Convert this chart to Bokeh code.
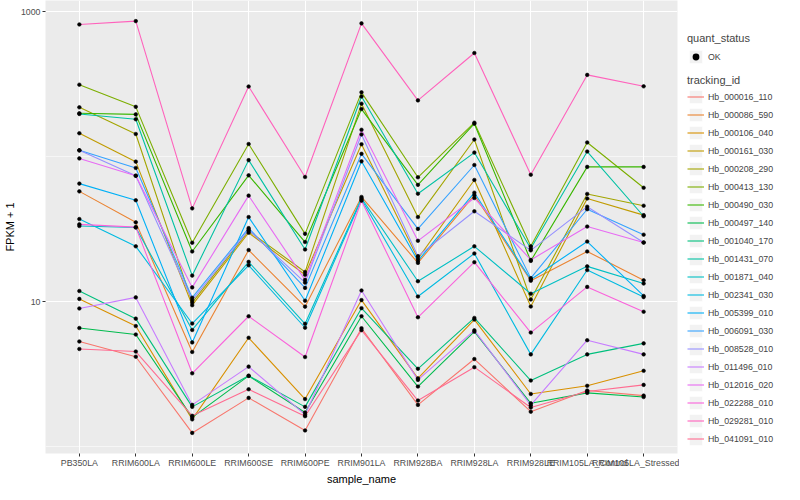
import math
from bokeh.plotting import figure
from bokeh.models import (FactorRange, Range1d, FixedTicker, BasicTickFormatter,
                          Legend, LegendItem)
from bokeh.layouts import row
from bokeh.embed import file_html
from bokeh.resources import INLINE

samples = ["PB350LA", "RRIM600LA", "RRIM600LE", "RRIM600SE", "RRIM600PE", "RRIM901LA",
           "RRIM928BA", "RRIM928LA", "RRIM928LE", "RRIM105LA_Control", "RRIM105LA_Stressed"]

tracking_ids = ["Hb_000016_110", "Hb_000086_590", "Hb_000106_040", "Hb_000161_030",
                "Hb_000208_290", "Hb_000413_130", "Hb_000490_030", "Hb_000497_140",
                "Hb_001040_170", "Hb_001431_070", "Hb_001871_040", "Hb_002341_030",
                "Hb_005399_010", "Hb_006091_030", "Hb_008528_010", "Hb_011496_010",
                "Hb_012016_020", "Hb_022288_010", "Hb_029281_010", "Hb_041091_010"]

# FPKM + 1 per sample (order of `samples`)
hb_000016_110 = [5.34, 4.19, 1.25, 2.18, 1.30, 6.59, 1.95, 4.04, 1.75, 2.45, 2.26]
hb_000086_590 = [57.9, 35.4, 4.52, 22.8, 9.28, 53.0, 18.6, 54.5, 14.0, 22.3, 14.1]
hb_000106_040 = [10.5, 6.82, 1.55, 5.66, 2.14, 10.3, 2.97, 7.56, 2.32, 2.64, 3.35]
hb_000161_030 = [145.7, 92.8, 9.5, 30.0, 15.4, 122.4, 19.9, 69.4, 9.3, 51.7, 39.7]
hb_000208_290 = [220.0, 144.0, 9.9, 30.9, 16.1, 233.0, 38.5, 131.9, 10.4, 55.6, 46.1]
hb_000413_130 = [315.0, 221.6, 25.6, 122.8, 29.5, 279.0, 72.4, 172.3, 24.2, 125.9, 61.3]
hb_000490_030 = [200.0, 196.6, 22.3, 74.7, 25.9, 214.0, 64.2, 169.6, 19.2, 85.4, 85.4]
hb_000497_140 = [6.61, 5.96, 1.60, 3.09, 1.73, 7.97, 2.61, 6.24, 2.00, 2.36, 2.21]
hb_001040_170 = [11.9, 7.67, 1.89, 3.10, 1.89, 9.06, 3.46, 7.76, 2.87, 4.35, 5.18]
hb_001431_070 = [198.0, 181.9, 15.2, 95.1, 23.0, 261.0, 55.8, 107.2, 23.4, 109.0, 39.0]
hb_001871_040 = [33.4, 32.6, 6.41, 18.9, 7.07, 51.9, 13.9, 24.2, 11.4, 17.6, 13.4]
hb_002341_030 = [37.3, 24.2, 7.10, 17.9, 6.64, 50.9, 10.9, 21.6, 4.35, 16.6, 10.8]
hb_005399_010 = [65.5, 50.3, 5.26, 38.5, 10.2, 93.3, 19.2, 56.7, 14.3, 26.1, 11.0]
hb_006091_030 = [111.1, 84.0, 10.7, 32.3, 12.5, 105.1, 31.9, 88.0, 14.6, 43.6, 29.1]
hb_008528_010 = [111.1, 74.2, 10.3, 31.4, 13.6, 143.0, 20.7, 42.2, 22.7, 45.4, 25.7]
hb_011496_010 = [9.02, 10.75, 1.95, 3.58, 1.67, 12.0, 2.90, 6.37, 1.94, 5.45, 4.35]
hb_012016_020 = [97.7, 74.2, 12.6, 54.1, 14.2, 154.0, 26.4, 52.1, 19.5, 33.1, 25.7]
hb_022288_010 = [34.3, 32.8, 3.22, 7.97, 4.17, 49.9, 7.84, 18.8, 6.15, 12.7, 8.56]
hb_029281_010 = [820.0, 865.0, 44.2, 306.0, 72.7, 834.0, 245.5, 521.0, 75.4, 368.0, 307.0]
hb_041091_010 = [4.74, 4.55, 1.64, 2.50, 1.63, 6.39, 2.09, 3.55, 1.87, 2.41, 2.68]

series = [hb_000016_110, hb_000086_590, hb_000106_040, hb_000161_030, hb_000208_290,
          hb_000413_130, hb_000490_030, hb_000497_140, hb_001040_170, hb_001431_070,
          hb_001871_040, hb_002341_030, hb_005399_010, hb_006091_030, hb_008528_010,
          hb_011496_010, hb_012016_020, hb_022288_010, hb_029281_010, hb_041091_010]

palette = ["#F8766D", "#EA8331", "#D89000", "#C09B00", "#A3A500", "#7CAE00", "#39B600",
           "#00BB4E", "#00BF7D", "#00C1A3", "#00BFC4", "#00BAE0", "#00B0F6", "#35A2FF",
           "#9590FF", "#C77CFF", "#E76BF3", "#FA62DB", "#FF62BC", "#FF6C91"]

FONT = "Liberation Sans"

all_vals = [v for s in series for v in s]
lo, hi = math.log10(min(all_vals)), math.log10(max(all_vals))
pad = 0.05 * (hi - lo)

p = figure(frame_width=632, frame_height=453, output_backend="svg", toolbar_location=None,
           x_range=FactorRange(*samples, range_padding=0.1, range_padding_units="absolute"),
           y_range=Range1d(10 ** (lo - pad), 10 ** (hi + pad)), y_axis_type="log",
           min_border_left=0, min_border_right=2, min_border_top=0, min_border_bottom=0)
p.background_fill_color = "#EBEBEB"
p.border_fill_color = "white"
p.outline_line_color = None

p.yaxis.ticker = FixedTicker(ticks=[10, 1000], minor_ticks=[1, 100])
p.yaxis.formatter = BasicTickFormatter()
p.yaxis.major_label_overrides = {10: "10", 1000: "1000"}

for ax in (p.xaxis, p.yaxis):
    ax.axis_line_color = None
    ax.major_tick_line_color = "#333333"
    ax.major_tick_in = 0
    ax.major_tick_out = 3
    ax.minor_tick_line_color = None
    ax.major_label_text_font = FONT
    ax.major_label_text_font_size = "8.8px"
    ax.major_label_text_color = "#4D4D4D"
    ax.major_label_standoff = 1
    ax.axis_label_text_font = FONT
    ax.axis_label_text_font_size = "11px"
    ax.axis_label_text_font_style = "normal"
    ax.axis_label_text_color = "black"
    ax.axis_label_standoff = 2
p.xaxis.axis_label = "sample_name"
p.yaxis.axis_label = "FPKM + 1"

p.xgrid.grid_line_color = "white"
p.xgrid.grid_line_width = 1.1
p.ygrid.grid_line_color = "white"
p.ygrid.grid_line_width = 1.1
p.ygrid.minor_grid_line_color = "white"
p.ygrid.minor_grid_line_width = 0.55

for vals, col in zip(series, palette):
    p.line(x=samples, y=vals, line_color=col, line_width=1.1)
for vals in series:
    p.scatter(x=samples, y=vals, size=3.6, fill_color="black", line_color="black",
              line_width=0.6)

# legend panel (renderers placed outside its visible range, used only for legend keys)
lp = figure(width=100, height=484, output_backend="svg", toolbar_location=None,
            x_range=Range1d(0, 1), y_range=Range1d(0, 1),
            x_axis_location=None, y_axis_location=None, min_border=0)
lp.outline_line_color = None
lp.grid.visible = False
lp.background_fill_color = "white"
lp.border_fill_color = "white"

key_bg = lp.rect(x=[10], y=[10], width=1, height=1, fill_color="#F2F2F2", line_color="white")
ok_dot = lp.scatter(x=[10], y=[10], size=4, fill_color="black", line_color=None)
key_lines = [lp.line(x=[10, 11], y=[10, 10], line_color=c, line_width=1.1) for c in palette]


def style(leg, standoff):
    leg.title_text_font = FONT
    leg.title_text_font_size = "11px"
    leg.title_text_font_style = "normal"
    leg.title_standoff = standoff
    leg.label_text_font = FONT
    leg.label_text_font_size = "8.8px"
    leg.glyph_width = 17
    leg.glyph_height = 17
    leg.label_height = 17
    leg.label_standoff = 4
    leg.spacing = 1
    leg.padding = 0
    leg.margin = 0
    leg.border_line_color = None
    leg.background_fill_alpha = 0


leg1 = Legend(items=[LegendItem(label="OK", renderers=[key_bg, ok_dot])],
              title="quant_status", location=(8, 385))
leg2 = Legend(items=[LegendItem(label=t, renderers=[key_bg, r]) for t, r in zip(tracking_ids, key_lines)],
              title="tracking_id", location=(8, 3))
style(leg1, 4)
style(leg2, 2)
lp.add_layout(leg1, "center")
lp.add_layout(leg2, "center")

layout = row(p, lp)
open("out.html", "w").write(file_html(layout, INLINE))
